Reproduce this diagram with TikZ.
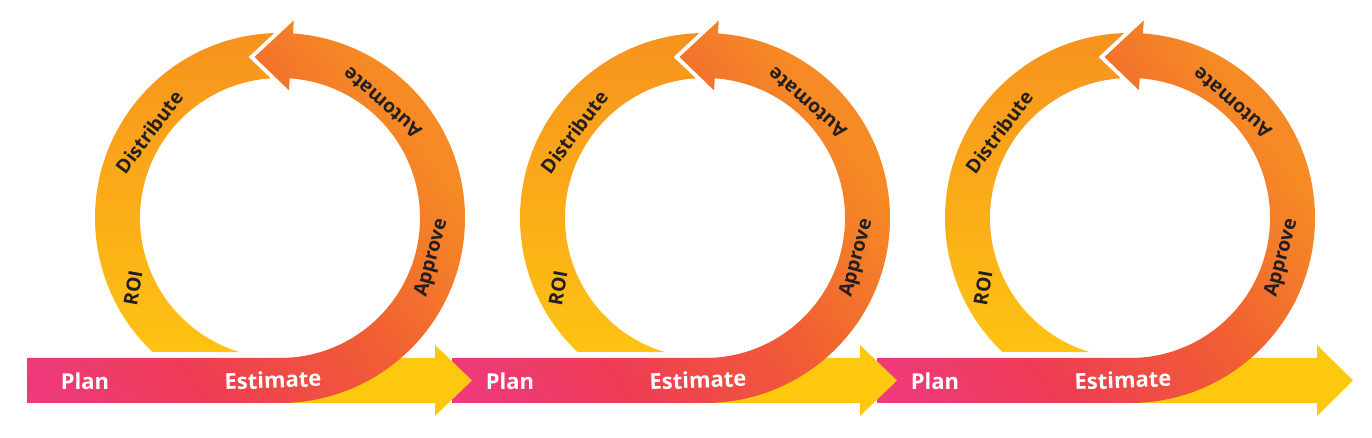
\documentclass[tikz,border=0pt]{standalone}
\usepackage{fontspec}
\setmainfont{Open Sans}
\usetikzlibrary{calc}
\definecolor{bandpink}{HTML}{EE3A7E}
\definecolor{bandred}{HTML}{EE3B55}
\definecolor{bandorred}{HTML}{F15E33}
\definecolor{bandorange}{HTML}{F37A2A}
\definecolor{bandtop}{HTML}{F68A24}
\definecolor{arctop}{HTML}{F7921E}
\definecolor{arcbot}{HTML}{FEC313}
\definecolor{arrowyellow}{HTML}{FEC80F}
\definecolor{labeldark}{HTML}{231F20}
\pgfdeclarehorizontalshading{bandshade}{100bp}{color(0bp)=(bandpink); color(16bp)=(bandpink); color(33bp)=(bandred); color(54bp)=(bandorred); color(65bp)=(bandorange); color(72bp)=(bandtop); color(100bp)=(bandtop)}

\begin{document}
\begin{tikzpicture}[x=0.02cm, y=0.02cm,
    ringlabel/.style={font=\bfseries\fontsize{11}{11}\selectfont, text=labeldark, inner sep=0pt},
    bandlabel/.style={font=\bfseries\fontsize{12.5}{12.5}\selectfont, text=white, inner sep=0pt},
    yellowarrow/.style={fill=arrowyellow}]
\useasboundingbox (0,0) rectangle (1372,438);
% right unit first, so each yellow head lies over the next band
\foreach \i/\hb/\tip in {2/1317/1353, 1/860/897, 0/435/472} {
    \pgfmathsetmacro\ox{425*\i}
    \coordinate (c\i) at (\ox+280,220);
    % yellow arrow under the band
    \fill[yellowarrow] (\ox+280,35) -- (\hb,35) -- (\hb,22) -- (\tip,57.5)
        -- (\hb,93) -- (\hb,80) -- (\ox+280,80) -- cycle;
    % band turning into the ring
    \shade[shading=bandshade, shading angle=35] (\ox+27,35) -- (\ox+280,35)
        arc[start angle=-90, end angle=86, radius=185]
        -- ($(c\i)+(86:198)$) -- ($(c\i)+(99:163)$) -- ($(c\i)+(86:128)$)
        -- ($(c\i)+(86:140)$) arc[start angle=86, end angle=-90, radius=140]
        -- (\ox+27,80) -- cycle;
    % left arc
    \shade[top color=arctop, bottom color=arcbot] ($(c\i)+(91.8:185)$)
        arc[start angle=91.8, end angle=226.4, radius=185]
        -- ($(c\i)+(253.2:140)$) arc[start angle=253.2, end angle=93.8, radius=140]
        -- ($(c\i)+(101.1:164)$) -- cycle;
    \node[bandlabel] (plan\i) at (\ox+85,57) {Plan};
    \node[bandlabel, rotate=2] (estimate\i) at (\ox+273,58) {Estimate};
    \node[ringlabel, rotate=75] (approve\i) at (\ox+432,180) {Approve};
    \node[ringlabel, rotate=139] (automate\i) at (\ox+382,335) {Automate};
    \node[ringlabel, rotate=53] (distribute\i) at (\ox+149,306) {Distribute};
    \node[ringlabel, rotate=80] (roi\i) at (\ox+133,150) {ROI};
}
\end{tikzpicture}
\end{document}
